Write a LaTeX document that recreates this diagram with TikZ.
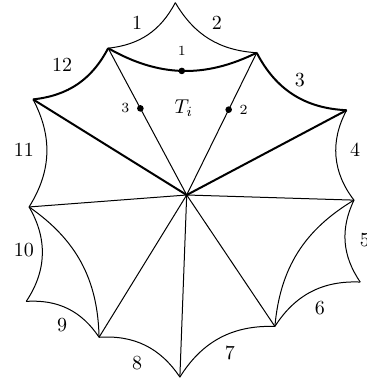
\documentclass[tikz,border=0pt]{standalone}
\begin{document}
\begin{tikzpicture}[line join=round, line width=0.5pt]
  \tikzset{
    dot_node/.style={circle, fill=black, inner sep=0pt, minimum size=3.3pt},
    small_label/.style={font=\scriptsize},
    bold_edge/.style={line width=1pt}
  }
  \useasboundingbox (-3.281,-3.339) rectangle (3.168,3.427);

  % Vértices del polígono
  \coordinate (c) at (0,0);
  \coordinate (v0) at (-0.20,3.38);
  \coordinate (v1) at (-1.38,2.58);
  \coordinate (v2) at (1.23,2.50);
  \coordinate (v3) at (2.81,1.49);
  \coordinate (v4) at (2.94,-0.09);
  \coordinate (v5) at (3.05,-1.53);
  \coordinate (v6) at (1.55,-2.31);
  \coordinate (v7) at (-0.12,-3.20);
  \coordinate (v8) at (-1.54,-2.50);
  \coordinate (v9) at (-2.82,-1.87);
  \coordinate (v10) at (-2.77,-0.21);
  \coordinate (v11) at (-2.70,1.68);

  % Aristas del borde
  \draw (v0) to[bend left=28] (v1);
  \draw[bold_edge] (v1) to[bend left=28] (v11);
  \draw (v11) to[bend left=30] (v10);
  \draw (v10) to[bend left=32] (v9);
  \draw (v9) to[bend left=30] (v8);
  \draw (v8) to[bend left=30] (v7);
  \draw (v7) to[bend left=30] (v6);
  \draw (v6) to[bend left=30] (v5);
  \draw (v5) to[bend left=30] (v4);
  \draw (v4) to[bend left=33] (v3);
  \draw[bold_edge] (v3) to[bend left=30] (v2);
  \draw (v2) to[bend left=28] (v0);

  % Diagonales desde el centro
  \draw (c) -- (v10);
  \draw (c) -- (v8);
  \draw (c) -- (v7);
  \draw (c) -- (v6);
  \draw (c) -- (v4);
  \draw (c) -- node[dot_node, pos=0.59, label={[small_label]left:3}] (p3) {} (v1);
  \draw (c) -- node[dot_node, pos=0.6, label={[small_label]right:2}] (p2) {} (v2);
  \draw[bold_edge] (c) -- (v11);
  \draw[bold_edge] (c) -- (v3);

  % Arcos interiores
  \draw (v10) to[bend left=27] (v8);
  \draw (v6) to[bend left=27] (v4);
  \draw[bold_edge] (v1) to[bend right=28] node[dot_node, label={[small_label, label distance=1.5pt]above:1}] (p1) {} (v2);

  % Etiquetas
  \node (ti) at (-0.05,1.53) {$T_i$};
  \node (l1) at (-0.87,3.02) {1};
  \node (l2) at (0.53,3.02) {2};
  \node (l3) at (1.99,2.02) {3};
  \node (l4) at (2.96,0.79) {4};
  \node (l5) at (3.13,-0.79) {5};
  \node (l6) at (2.34,-1.99) {6};
  \node (l7) at (0.76,-2.78) {7};
  \node (l8) at (-0.87,-2.95) {8};
  \node (l9) at (-2.19,-2.28) {9};
  \node (l10) at (-2.86,-0.97) {10};
  \node (l11) at (-2.86,0.79) {11};
  \node (l12) at (-2.19,2.28) {12};
\end{tikzpicture}
\end{document}
